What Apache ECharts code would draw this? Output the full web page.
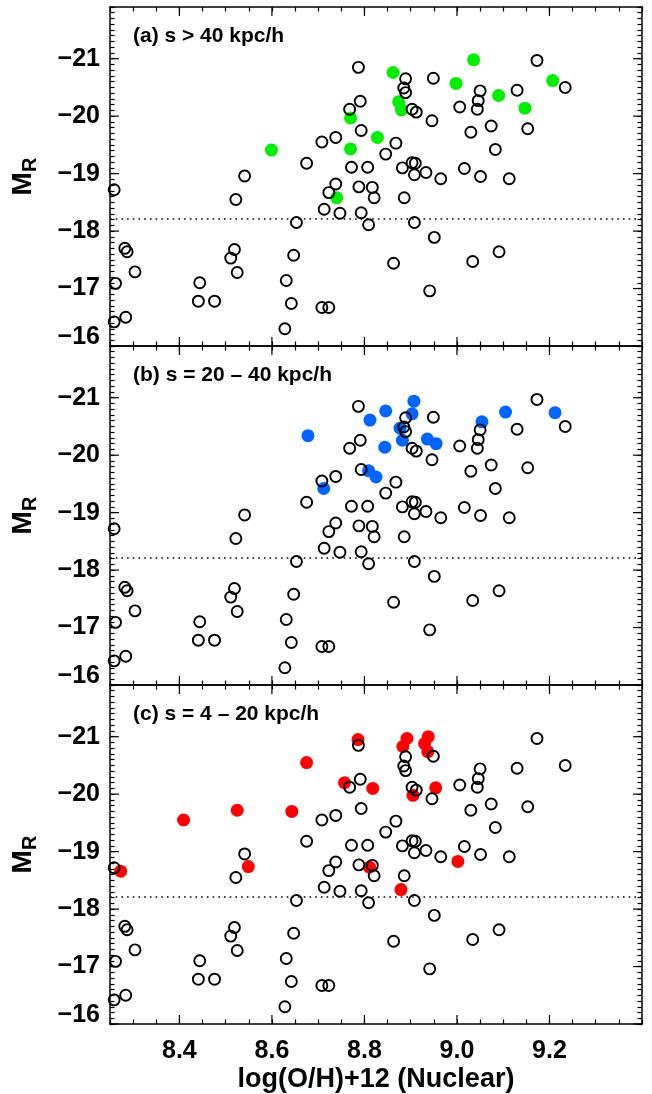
<!DOCTYPE html>
<html>
<head>
<meta charset="utf-8">
<title>M_R vs nuclear abundance</title>
<script src="https://cdn.jsdelivr.net/npm/echarts@6/dist/echarts.min.js"></script>
<style>
  html, body { margin: 0; padding: 0; background: #ffffff; }
  #chart { width: 652px; height: 1094px; }
</style>
</head>
<body>
<div id="chart"></div>
<script>
// Full sample: nuclear log(O/H)+12 and absolute R magnitude
const sampleOH = [
  8.259, 8.282, 8.287, 8.304, 8.262, 8.259, 8.284, 8.444, 8.441, 8.476,
  8.519, 8.511, 8.525, 8.522, 8.541, 8.675, 8.708, 8.653, 8.647, 8.631,
  8.642, 8.628, 8.708, 8.723, 8.713, 8.723, 8.738, 8.738, 8.747, 8.768,
  8.791, 8.787, 8.793, 8.772, 8.807, 8.788, 8.817, 8.821, 8.793, 8.809,
  8.846, 8.868, 8.889, 8.885, 8.889, 8.903, 8.912, 8.882, 8.903, 8.910,
  8.908, 8.933, 8.965, 8.886, 8.908, 8.951, 8.863, 8.941, 8.949, 8.946,
  9.006, 9.030, 9.016, 9.050, 9.046, 9.044, 9.074, 9.083, 9.051, 9.113,
  9.034, 9.091, 9.130, 9.153, 9.173, 9.234
];
const sampleMR = [
  -18.72, -17.70, -17.64, -17.29, -17.09, -16.42, -16.50, -17.10, -16.78, -16.78,
  -17.68, -17.53, -17.28, -18.55, -18.96, -19.18, -19.55, -18.15, -17.58, -17.14,
  -16.74, -16.30, -16.67, -16.67, -18.38, -18.67, -19.63, -18.82, -18.31, -20.12,
  -20.26, -20.85, -19.75, -19.11, -19.11, -18.77, -18.76, -18.58, -18.32, -18.11,
  -19.34, -19.53, -20.65, -20.49, -20.41, -20.12, -20.07, -19.10, -19.19, -19.18,
  -18.98, -19.02, -18.91, -18.58, -18.15, -17.89, -17.44, -16.96, -20.66, -19.92,
  -20.16, -19.72, -19.09, -20.44, -20.27, -20.12, -19.83, -19.42, -18.95, -18.91,
  -17.47, -17.64, -20.45, -19.78, -20.97, -20.50
];

// (a) pairs with separation s > 40 kpc/h
const wideOH = [8.599, 8.770, 8.770, 8.740, 8.828, 8.862, 8.874, 8.880, 8.998, 9.036, 9.090, 9.147, 9.207];
const wideMR = [-19.41, -19.97, -19.43, -18.58, -19.63, -20.76, -20.25, -20.11, -20.57, -20.98, -20.36, -20.14, -20.62];

// (b) pairs with s = 20 - 40 kpc/h
const midOH = [8.678, 8.712, 8.812, 8.846, 8.844, 8.809, 8.825, 8.877, 8.882, 8.907, 8.903, 8.936, 8.955, 9.054, 9.105, 9.212];
const midMR = [-20.34, -19.42, -20.61, -20.77, -20.14, -19.73, -19.62, -20.47, -20.26, -20.94, -20.72, -20.28, -20.20, -20.58, -20.75, -20.74];

// (c) pairs with s = 4 - 20 kpc/h
const closeOH = [8.273, 8.409, 8.525, 8.549, 8.643, 8.675, 8.786, 8.757, 8.818, 8.811, 8.892, 8.883, 8.938, 8.930, 8.937, 8.905, 8.954, 9.002, 8.879];
const closeMR = [-18.66, -19.55, -19.72, -18.74, -19.70, -20.55, -20.95, -20.20, -20.10, -18.73, -20.97, -20.83, -21.00, -20.88, -20.74, -19.98, -20.11, -18.83, -18.34];

// Axis ticks and the magnitude limit line
const xMajor = [8.4, 8.6, 8.8, 9.0, 9.2];
const yMajor = [-21, -20, -19, -18, -17, -16];
const limitMR = -18.22;

const panelTitles = ['(a) s > 40 kpc/h', '(b) s = 20 \u2013 40 kpc/h', '(c) s = 4 \u2013 20 kpc/h'];
const panelColors = ['#00ee00', '#0064ff', '#ff0000'];
const panelOH = [wideOH, midOH, closeOH];
const panelMR = [wideMR, midMR, closeMR];

const X_MIN = 8.25, X_MAX = 9.40, Y_TOP = -21.9, Y_BOTTOM = -16;
const MINOR_LEN = 4.5, MAJOR_LEN = 9;
const INK = '#000';

function pairs(xs, ys) { return xs.map((x, i) => [x, ys[i]]); }

const FONT = 'Liberation Sans, Arial, Helvetica, sans-serif';
const GRID_LEFT = 110, GRID_W = 532, GRID_H = 339;
const panelTop = [7, 346, 685];

const grids = [], xAxes = [], yAxes = [], series = [], titles = [];

// Long ticks at the labelled values, on both sides of the box
function majorTicksX(params, api) {
  const x = api.value(0);
  const b = api.coord([x, Y_BOTTOM]);
  const t = api.coord([x, Y_TOP]);
  return { type: 'group', children: [
    { type: 'line', shape: { x1: b[0], y1: b[1], x2: b[0], y2: b[1] - MAJOR_LEN }, style: { stroke: INK, lineWidth: 1.2 } },
    { type: 'line', shape: { x1: t[0], y1: t[1], x2: t[0], y2: t[1] + MAJOR_LEN }, style: { stroke: INK, lineWidth: 1.2 } }
  ] };
}
function majorTicksY(params, api) {
  const y = api.value(1);
  const l = api.coord([X_MIN, y]);
  const r = api.coord([X_MAX, y]);
  return { type: 'group', children: [
    { type: 'line', shape: { x1: l[0], y1: l[1], x2: l[0] + MAJOR_LEN, y2: l[1] }, style: { stroke: INK, lineWidth: 1.2 } },
    { type: 'line', shape: { x1: r[0], y1: r[1], x2: r[0] - MAJOR_LEN, y2: r[1] }, style: { stroke: INK, lineWidth: 1.2 } }
  ] };
}

panelTop.forEach((top, g) => {
  grids.push({ left: GRID_LEFT, top: top, width: GRID_W, height: GRID_H });
  const isLast = g === panelTop.length - 1;

  // box edge with short ticks every 0.05
  function xFrame(pos) {
    return {
      type: 'value', gridIndex: g, position: pos, min: X_MIN, max: X_MAX, interval: 0.05,
      axisLine: { show: true, onZero: false, lineStyle: { color: INK, width: 1.5 } },
      axisTick: { show: true, inside: true, length: MINOR_LEN, lineStyle: { color: INK, width: 1.2 } },
      axisLabel: { show: false },
      splitLine: { show: false }
    };
  }
  // box edge with short ticks every 0.1 mag
  function yFrame(pos) {
    return {
      type: 'value', gridIndex: g, position: pos, inverse: true, min: Y_TOP, max: Y_BOTTOM, interval: 0.1,
      axisLine: { show: true, onZero: false, lineStyle: { color: INK, width: 1.5 } },
      axisTick: { show: true, inside: true, length: MINOR_LEN, lineStyle: { color: INK, width: 1.2 } },
      axisLabel: { show: false },
      splitLine: { show: false }
    };
  }
  // labelled axes used by the series
  const xMain = {
    type: 'value', gridIndex: g, position: 'bottom', min: X_MIN, max: X_MAX,
    axisLine: { show: false, onZero: false },
    axisTick: { show: false },
    axisLabel: { show: isLast, customValues: xMajor, formatter: v => v.toFixed(1), margin: 15,
                 fontFamily: FONT, fontWeight: 'bold', fontSize: 25, color: INK },
    splitLine: { show: false }
  };
  if (isLast) {
    xMain.name = 'log(O/H)+12 (Nuclear)';
    xMain.nameLocation = 'middle';
    xMain.nameGap = 42;
    xMain.nameTextStyle = { fontFamily: FONT, fontWeight: 'bold', fontSize: 27, color: INK };
  }
  const yMain = {
    type: 'value', gridIndex: g, position: 'left', inverse: true, min: Y_TOP, max: Y_BOTTOM,
    axisLine: { show: false, onZero: false },
    axisTick: { show: false },
    axisLabel: { show: true, customValues: yMajor, margin: 10,
                 formatter: v => (v === Y_BOTTOM ? '{lo|' : '{n|') + '\u2212' + Math.abs(v) + '}',
                 rich: {
                   n: { fontFamily: FONT, fontWeight: 'bold', fontSize: 25, color: INK },
                   lo: { fontFamily: FONT, fontWeight: 'bold', fontSize: 25, color: INK, padding: [0, 0, 18, 0] }
                 } },
    splitLine: { show: false },
    name: '{m|M}{r|R}',
    nameLocation: 'middle',
    nameRotate: 90,
    nameGap: 70,
    nameTextStyle: {
      rich: {
        m: { fontFamily: FONT, fontWeight: 'bold', fontSize: 28, color: INK, lineHeight: 34 },
        r: { fontFamily: FONT, fontWeight: 'bold', fontSize: 20, color: INK, verticalAlign: 'bottom', lineHeight: 20 }
      }
    }
  };

  const xi = xAxes.length, yi = yAxes.length;
  xAxes.push(xMain, xFrame('bottom'), xFrame('top'));
  yAxes.push(yMain, yFrame('left'), yFrame('right'));

  series.push({
    type: 'custom', xAxisIndex: xi, yAxisIndex: yi, clip: false, silent: true,
    data: xMajor.map(v => [v, Y_TOP]), renderItem: majorTicksX
  });
  series.push({
    type: 'custom', xAxisIndex: xi, yAxisIndex: yi, clip: false, silent: true,
    data: yMajor.map(v => [X_MIN, v]), renderItem: majorTicksY
  });

  // galaxies of this separation bin, filled
  series.push({
    type: 'scatter', xAxisIndex: xi, yAxisIndex: yi, z: 2,
    symbol: 'circle', symbolSize: 13,
    itemStyle: { color: panelColors[g], opacity: 1 },
    data: pairs(panelOH[g], panelMR[g]),
    markLine: {
      silent: true, symbol: 'none', animation: false,
      label: { show: false },
      lineStyle: { color: INK, width: 1.5, type: [1.6, 4.1] },
      data: [{ yAxis: limitMR }]
    }
  });
  // whole sample, open circles on top
  series.push({
    type: 'scatter', xAxisIndex: xi, yAxisIndex: yi, z: 3,
    symbol: 'circle', symbolSize: 11,
    itemStyle: { color: 'rgba(0,0,0,0)', borderColor: INK, borderWidth: 1.9, opacity: 1 },
    data: pairs(sampleOH, sampleMR)
  });

  titles.push({
    text: panelTitles[g], left: 133, top: top + 19, padding: 0,
    textStyle: { fontFamily: FONT, fontWeight: 'bold', fontSize: 21, color: INK }
  });
});

const chart = echarts.init(document.getElementById('chart'));
chart.setOption({
  backgroundColor: '#ffffff',
  animation: false,
  title: titles,
  grid: grids,
  xAxis: xAxes,
  yAxis: yAxes,
  series: series
});
</script>
</body>
</html>
